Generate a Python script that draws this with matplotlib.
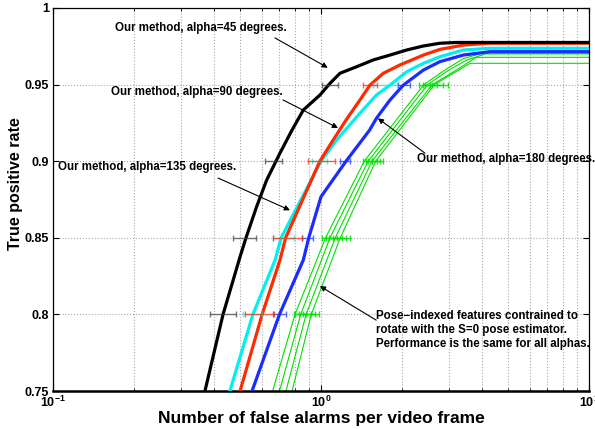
import numpy as np
import matplotlib
matplotlib.use("Agg")
import matplotlib.pyplot as plt
from matplotlib.ticker import LogLocator, NullFormatter, FixedLocator, FixedFormatter

plt.rcParams.update({
    "font.family": ["Liberation Sans", "DejaVu Sans"],
    "font.weight": "bold",
    "mathtext.fontset": "custom",
    "mathtext.rm": "Liberation Sans:bold",
    "mathtext.bf": "Liberation Sans:bold",
    "mathtext.default": "bf",
})

# ROC curves: true positive rate vs. false alarms per video frame
tpr_a45 = [0.75, 0.80, 0.8377, 0.85, 0.8703, 0.8877, 0.9053, 0.9204, 0.9334, 0.9432,
           0.9508, 0.9574, 0.9617, 0.9661, 0.9693, 0.9726, 0.9752, 0.977, 0.9775, 0.9775]
fa_a45 = [0.369, 0.431, 0.499, 0.525, 0.575, 0.627, 0.703, 0.78, 0.859, 0.991,
          1.08, 1.177, 1.36, 1.567, 1.81, 2.09, 2.41, 2.78, 3.2, 10.0]

tpr_a90 = [0.75, 0.80, 0.8355, 0.85, 0.90, 0.9138, 0.9269, 0.94, 0.9497, 0.9574,
           0.9628, 0.9693, 0.973, 0.9758, 0.977, 0.977]
fa_a90 = [0.499, 0.603, 0.703, 0.738, 0.99, 1.11, 1.24, 1.398, 1.524, 1.708,
          1.97, 2.41, 2.78, 3.4, 4.27, 10.0]

tpr_a135 = [0.75, 0.80, 0.8355, 0.85, 0.90, 0.9138, 0.929, 0.9432, 0.9497, 0.9584,
            0.9639, 0.9682, 0.9726, 0.9737, 0.9737]
fa_a135 = [0.457, 0.557, 0.674, 0.71, 1.0, 1.144, 1.36, 1.61, 1.81, 2.09,
           2.41, 2.78, 3.4, 4.27, 10.0]

tpr_a180 = [0.75, 0.80, 0.8355, 0.85, 0.8768, 0.90, 0.9204, 0.928, 0.94, 0.9497,
            0.9595, 0.965, 0.9693, 0.9715, 0.9715]
fa_a180 = [0.553, 0.70, 0.859, 0.90, 1.0, 1.24, 1.52, 1.61, 1.81, 2.03,
           2.41, 2.78, 3.4, 4.27, 10.0]

# Pose-indexed features tied to the S=0 pose estimator (one curve per alpha)
tpr_pose = [
    [0.75, 0.80, 0.85, 0.90, 0.95, 0.9595, 0.967, 0.9705, 0.9705],
    [0.75, 0.80, 0.85, 0.90, 0.95, 0.9595, 0.966, 0.970, 0.970],
    [0.75, 0.80, 0.85, 0.90, 0.95, 0.958, 0.9678, 0.9678],
    [0.75, 0.80, 0.85, 0.90, 0.95, 0.9639, 0.9639],
]
fa_pose = [
    [0.66, 0.80, 1.04, 1.45, 2.42, 2.9, 3.4, 4.0, 10.0],
    [0.70, 0.84, 1.08, 1.50, 2.50, 3.0, 3.5, 4.1, 10.0],
    [0.74, 0.88, 1.13, 1.55, 2.60, 3.1, 3.8, 10.0],
    [0.78, 0.92, 1.18, 1.60, 2.65, 3.6, 10.0],
]

# Spread of the false-alarm rate at fixed detection levels
err_levels = [0.80, 0.85, 0.90, 0.95]
err_a45_lo = [0.385, 0.47, 0.62, 1.006]
err_a45_hi = [0.48, 0.57, 0.715, 1.16]
err_a90_lo = [0.52, 0.66, 0.895, 1.43]
err_a90_hi = [0.67, 0.85, 1.13, 1.62]
err_a135_lo = [0.51, 0.66, 0.925, 1.56]
err_a135_hi = [0.60, 0.79, 1.05, 1.92]
err_a180_lo = [0.66, 0.85, 1.18, 1.94]
err_a180_hi = [0.74, 0.93, 1.28, 2.15]
err_pose_lo = [
    [0.79, 1.01, 1.43, 2.32],
    [0.80, 1.04, 1.47, 2.40],
    [0.83, 1.07, 1.50, 2.45],
    [0.86, 1.11, 1.55, 2.55],
]
err_pose_hi = [
    [0.88, 1.15, 1.55, 2.60],
    [0.92, 1.20, 1.62, 2.70],
    [0.95, 1.24, 1.66, 2.85],
    [0.98, 1.28, 1.70, 2.98],
]

y_ticks = [0.75, 0.80, 0.85, 0.90, 0.95, 1.0]
y_tick_labels = ["0.75", "0.8", "0.85", "0.9", "0.95", "1"]

GREEN = "#00e000"
BLACK = "#000000"
RED = "#ff2a00"
CYAN = "#00f0f0"
BLUE = "#1a2cff"

fig = plt.figure(figsize=(5.95, 4.29), dpi=100)
ax = fig.add_axes([53 / 595, 38 / 429, 536 / 595, 383 / 429])
ax.set_xscale("log")


def spread_bars(lo, hi, color, alpha=0.7):
    lo = np.asarray(lo)
    hi = np.asarray(hi)
    c = np.sqrt(lo * hi)
    ax.errorbar(c, err_levels, xerr=[c - lo, hi - c], fmt="none", ecolor=color,
                elinewidth=1.0, capsize=2.5, capthick=1.0, alpha=alpha, zorder=4)


for fx, ty in zip(fa_pose, tpr_pose):
    ax.plot(fx, ty, color=GREEN, lw=0.8, zorder=2)
for lo, hi in zip(err_pose_lo, err_pose_hi):
    spread_bars(lo, hi, GREEN, alpha=0.85)

ax.plot(fa_a180, tpr_a180, color=BLUE, lw=2.3, zorder=3)
ax.plot(fa_a135, tpr_a135, color=CYAN, lw=2.3, zorder=3)
ax.plot(fa_a90, tpr_a90, color=RED, lw=2.3, zorder=3)
ax.plot(fa_a45, tpr_a45, color=BLACK, lw=2.3, zorder=3)

spread_bars(err_a180_lo, err_a180_hi, BLUE)
spread_bars(err_a135_lo, err_a135_hi, CYAN)
spread_bars(err_a90_lo, err_a90_hi, RED)
spread_bars(err_a45_lo, err_a45_hi, "#404040")

ax.set_xlim(0.1, 10)
ax.set_ylim(0.75, 1.0)
ax.yaxis.set_major_locator(FixedLocator(y_ticks))
ax.yaxis.set_major_formatter(FixedFormatter(y_tick_labels))
ax.xaxis.set_major_locator(LogLocator(base=10, numticks=5))
ax.xaxis.set_minor_locator(LogLocator(base=10, subs=np.arange(2, 10), numticks=20))
ax.xaxis.set_minor_formatter(NullFormatter())

ax.grid(True, which="major", axis="both", linestyle=":", color="#a8a8a8", lw=0.8)
ax.grid(True, which="minor", axis="x", linestyle=":", color="#a8a8a8", lw=0.8)
ax.set_axisbelow(True)

ax.tick_params(which="both", direction="in", top=True, right=True)
ax.tick_params(which="major", length=4, width=0.8, labelsize=9)
ax.tick_params(axis="y", which="major", pad=3)
ax.tick_params(axis="x", which="major", pad=2.5)
ax.tick_params(which="minor", length=2, width=0.6)
for side in ["left", "right", "top"]:
    ax.spines[side].set_linewidth(0.9)
ax.spines["bottom"].set_linewidth(1.8)

ax.set_xlabel("Number of false alarms per video frame", fontsize=12.5,
              fontweight="bold", va="center")
ax.xaxis.set_label_coords(0.5, (391 - 418) / 383)
ax.set_ylabel("True positive rate", fontsize=11.5, fontweight="bold", va="center")
ax.yaxis.set_label_coords((16 - 53) / 536, (391 - 184) / 383)

arrow = dict(arrowstyle="-|>", color="black", lw=0.8, mutation_scale=8,
             shrinkA=0, shrinkB=0)
note_font = dict(fontsize=8.3, fontweight="bold", va="center", ha="left",
                 transform=ax.transAxes)

ax.text(0.116, 0.948, "Our method, alpha=45 degrees.", **note_font)
ax.annotate("", xy=(1.06, 0.961), xycoords="data",
            xytext=(0.414, 0.922), textcoords="axes fraction", arrowprops=arrow)

ax.text(0.108, 0.781, "Our method, alpha=90 degrees.", **note_font)
ax.annotate("", xy=(1.157, 0.9217), xycoords="data",
            xytext=(0.429, 0.760), textcoords="axes fraction", arrowprops=arrow)

ax.text(0.009, 0.585, "Our method, alpha=135 degrees.", **note_font)
ax.annotate("", xy=(0.766, 0.868), xycoords="data",
            xytext=(0.308, 0.556), textcoords="axes fraction", arrowprops=arrow)

ax.text(0.679, 0.606, "Our method, alpha=180 degrees.", **note_font)
ax.annotate("", xy=(1.63, 0.928), xycoords="data",
            xytext=(0.694, 0.621), textcoords="axes fraction", arrowprops=arrow)

ax.text(0.603, 0.159,
        "Pose\u2212indexed features contrained to\n"
        "rotate with the S=0 pose estimator.\n"
        "Performance is the same for all alphas.",
        linespacing=1.2, **note_font)
ax.annotate("", xy=(0.99, 0.8185), xycoords="data",
            xytext=(0.603, 0.185), textcoords="axes fraction", arrowprops=arrow)

fig.savefig("out.png", dpi=100)
